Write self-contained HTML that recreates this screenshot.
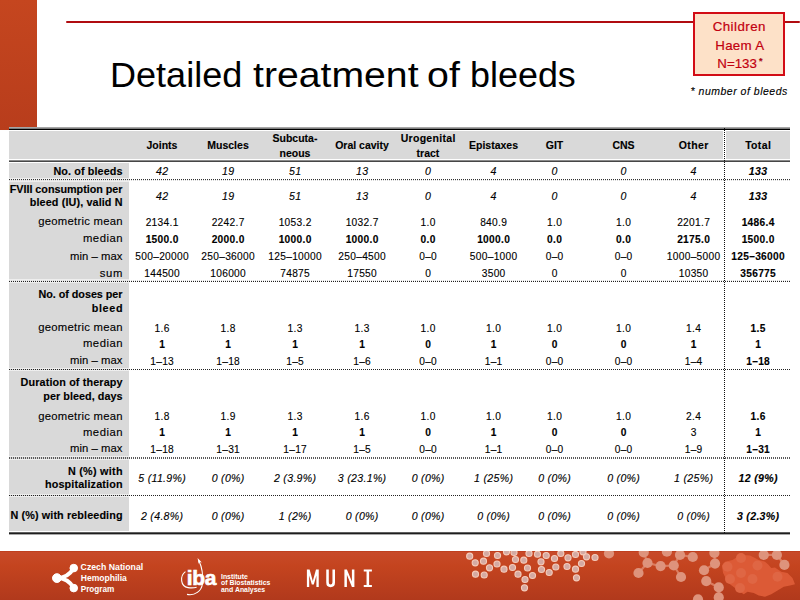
<!DOCTYPE html>
<html><head><meta charset="utf-8">
<style>
*{margin:0;padding:0;box-sizing:border-box}
html,body{width:800px;height:600px;overflow:hidden;background:#fff}
body{position:relative;font-family:"Liberation Sans",sans-serif;color:#000}
.t{position:absolute;white-space:nowrap;-webkit-text-stroke:0.12px #000}
.abs{position:absolute}
.dot{position:absolute;left:9px;width:781px;height:1px;
  background:repeating-linear-gradient(90deg,#222 0 1px,transparent 1px 2px)}
.dot::before,.dot::after{content:"";position:absolute;left:0;right:0;height:1px;background:rgba(255,255,255,.55)}
.dot::before{top:-1px}.dot::after{bottom:-1px}
</style></head><body>
<!-- left accent bar -->
<div class="abs" style="left:0;top:0;width:37px;height:130px;background:linear-gradient(180deg,#c5461f,#b83d1c)"></div>
<!-- red rule -->
<div class="abs" style="left:66px;top:21px;width:734px;height:2px;background:#b00c10;border-radius:1px"></div>
<!-- info box -->
<div class="abs" style="left:693px;top:12px;width:92px;height:64px;border:2px solid #d20c16;background:#fde1c8"></div>
<div class="t" style="top:17.59px;font-size:13.3px;line-height:17px;color:#c2000f;letter-spacing:0.46px;left:639.28px;width:200px;text-align:center;-webkit-text-stroke:0.2px #c2000f;">Children</div><div class="t" style="top:36.54px;font-size:13.3px;line-height:17px;color:#c2000f;letter-spacing:0.3px;left:639.80px;width:200px;text-align:center;-webkit-text-stroke:0.2px #c2000f;">Haem A</div><div class="t" style="top:54.89px;font-size:13.3px;line-height:17px;color:#c2000f;left:637.10px;width:200px;text-align:center;-webkit-text-stroke:0.2px #c2000f;">N=133</div><div class="t" style="top:55.08px;font-size:9px;line-height:12px;font-weight:bold;color:#c2000f;left:759.00px;">*</div><div class="t" style="top:83.66px;font-size:10.5px;line-height:14px;font-style:italic;letter-spacing:0.5px;left:690.60px;">* number of bleeds</div>
<!-- title -->
<div class="t" style="left:110.00px;top:52px;font-size:37.25px;line-height:44px;transform:scale(0.968,0.93);transform-origin:0 35px;-webkit-text-stroke:0">Detailed</div><div class="t" style="left:252.80px;top:52px;font-size:37.25px;line-height:44px;transform:scale(1.052,0.93);transform-origin:0 35px;-webkit-text-stroke:0">treatment</div><div class="t" style="left:426.80px;top:52px;font-size:37.25px;line-height:44px;transform:scale(1.056,0.93);transform-origin:0 35px;-webkit-text-stroke:0">of</div><div class="t" style="left:470.40px;top:52px;font-size:37.25px;line-height:44px;transform:scale(0.964,0.93);transform-origin:0 35px;-webkit-text-stroke:0">bleeds</div>

<!-- table backgrounds -->
<div class="abs" style="left:9px;top:127px;width:781px;height:1px;background:#a6a6a6"></div>
<div class="abs" style="left:9px;top:128px;width:781px;height:1px;background:#7e7e7e"></div>
<div class="abs" style="left:9px;top:129px;width:781px;height:1px;background:#000"></div>
<div class="abs" style="left:9px;top:131px;width:781px;height:28px;background:#d9d9d9"></div>
<div class="abs" style="left:9px;top:160px;width:781px;height:1px;background:#8a8a8a"></div>
<div class="abs" style="left:9px;top:161px;width:781px;height:1px;background:#474747"></div>
<div class="abs" style="left:9px;top:163px;width:120px;height:368px;background:#d9d9d9"></div>
<div class="dot" style="top:180px;height:1px;background:repeating-linear-gradient(90deg,#aaa 0 1px,transparent 1px 2px)"></div><div class="dot" style="top:179px;height:1px;background:repeating-linear-gradient(90deg,#333 0 1px,transparent 1px 2px)"></div><div class="dot" style="top:280px;height:1px;background:repeating-linear-gradient(90deg,#aaa 0 1px,transparent 1px 2px)"></div><div class="dot" style="top:281px;height:1px;background:repeating-linear-gradient(90deg,#222 0 1px,transparent 1px 2px)"></div><div class="dot" style="top:369px;height:1px;background:repeating-linear-gradient(90deg,#222 0 1px,transparent 1px 2px)"></div><div class="dot" style="top:457px;height:2px;background:repeating-linear-gradient(90deg,#5a5a5a 0 1px,transparent 1px 2px)"></div><div class="dot" style="top:495px;height:1px;background:repeating-linear-gradient(90deg,#222 0 1px,transparent 1px 2px)"></div>
<div class="abs" style="left:9px;top:532px;width:781px;height:1px;background:#5e5e5e"></div>
<div class="abs" style="left:9px;top:533px;width:781px;height:1px;background:#1e1e1e"></div>
<div class="abs" style="left:9px;top:534px;width:781px;height:1px;background:#a8a8a8"></div>
<div class="abs" style="left:723px;top:130px;width:3px;height:30px;background:#fff"></div>
<div class="abs" style="left:724px;top:128px;width:1px;height:405px;background:repeating-linear-gradient(180deg,#111 0 1px,transparent 1px 2px)"></div>

<div class="t" style="top:137.96px;font-size:10.5px;line-height:14px;font-weight:bold;left:62.00px;width:200px;text-align:center;">Joints</div><div class="t" style="top:137.96px;font-size:10.5px;line-height:14px;font-weight:bold;left:128.00px;width:200px;text-align:center;">Muscles</div><div class="t" style="top:131.26px;font-size:10.5px;line-height:14px;font-weight:bold;left:195.00px;width:200px;text-align:center;">Subcuta-</div><div class="t" style="top:145.96px;font-size:10.5px;line-height:14px;font-weight:bold;left:195.00px;width:200px;text-align:center;">neous</div><div class="t" style="top:137.96px;font-size:10.5px;line-height:14px;font-weight:bold;left:262.00px;width:200px;text-align:center;">Oral cavity</div><div class="t" style="top:131.26px;font-size:10.5px;line-height:14px;font-weight:bold;letter-spacing:0.3px;left:328.15px;width:200px;text-align:center;">Urogenital</div><div class="t" style="top:145.96px;font-size:10.5px;line-height:14px;font-weight:bold;left:328.00px;width:200px;text-align:center;">tract</div><div class="t" style="top:137.96px;font-size:10.5px;line-height:14px;font-weight:bold;left:393.50px;width:200px;text-align:center;">Epistaxes</div><div class="t" style="top:137.96px;font-size:10.5px;line-height:14px;font-weight:bold;left:454.50px;width:200px;text-align:center;">GIT</div><div class="t" style="top:137.96px;font-size:10.5px;line-height:14px;font-weight:bold;left:523.50px;width:200px;text-align:center;">CNS</div><div class="t" style="top:137.96px;font-size:10.5px;line-height:14px;font-weight:bold;letter-spacing:0.4px;left:593.70px;width:200px;text-align:center;">Other</div><div class="t" style="top:137.96px;font-size:10.5px;line-height:14px;font-weight:bold;letter-spacing:0.35px;left:658.17px;width:200px;text-align:center;">Total</div><div class="t" style="top:163.96px;font-size:10.8px;line-height:14px;font-weight:bold;letter-spacing:0.11px;left:-177.39px;width:300px;text-align:right;">No. of bleeds</div><div class="t" style="top:181.76px;font-size:10.8px;line-height:14px;font-weight:bold;letter-spacing:-0.03px;left:-177.53px;width:300px;text-align:right;">FVIII consumption per</div><div class="t" style="top:195.06px;font-size:10.8px;line-height:14px;font-weight:bold;letter-spacing:0.12px;left:-177.38px;width:300px;text-align:right;">bleed (IU), valid N</div><div class="t" style="top:213.58px;font-size:11.3px;line-height:15px;letter-spacing:0.25px;left:-177.25px;width:300px;text-align:right;">geometric mean</div><div class="t" style="top:230.98px;font-size:11.3px;line-height:15px;letter-spacing:0.5px;left:-177.00px;width:300px;text-align:right;">median</div><div class="t" style="top:248.58px;font-size:11.3px;line-height:15px;letter-spacing:0.06px;left:-177.44px;width:300px;text-align:right;">min – max</div><div class="t" style="top:265.98px;font-size:11.3px;line-height:15px;letter-spacing:0.75px;left:-176.75px;width:300px;text-align:right;">sum</div><div class="t" style="top:286.76px;font-size:10.8px;line-height:14px;font-weight:bold;letter-spacing:-0.04px;left:-177.54px;width:300px;text-align:right;">No. of doses per</div><div class="t" style="top:300.66px;font-size:10.8px;line-height:14px;font-weight:bold;letter-spacing:0.65px;left:-176.85px;width:300px;text-align:right;">bleed</div><div class="t" style="top:319.78px;font-size:11.3px;line-height:15px;letter-spacing:0.25px;left:-177.25px;width:300px;text-align:right;">geometric mean</div><div class="t" style="top:336.08px;font-size:11.3px;line-height:15px;letter-spacing:0.5px;left:-177.00px;width:300px;text-align:right;">median</div><div class="t" style="top:352.78px;font-size:11.3px;line-height:15px;letter-spacing:0.06px;left:-177.44px;width:300px;text-align:right;">min – max</div><div class="t" style="top:375.36px;font-size:10.8px;line-height:14px;font-weight:bold;letter-spacing:0.13px;left:-177.37px;width:300px;text-align:right;">Duration of therapy</div><div class="t" style="top:388.86px;font-size:10.8px;line-height:14px;font-weight:bold;letter-spacing:0.04px;left:-177.46px;width:300px;text-align:right;">per bleed, days</div><div class="t" style="top:408.58px;font-size:11.3px;line-height:15px;letter-spacing:0.25px;left:-177.25px;width:300px;text-align:right;">geometric mean</div><div class="t" style="top:424.58px;font-size:11.3px;line-height:15px;letter-spacing:0.5px;left:-177.00px;width:300px;text-align:right;">median</div><div class="t" style="top:441.48px;font-size:11.3px;line-height:15px;letter-spacing:0.06px;left:-177.44px;width:300px;text-align:right;">min – max</div><div class="t" style="top:463.56px;font-size:10.8px;line-height:14px;font-weight:bold;letter-spacing:0.27px;left:-177.23px;width:300px;text-align:right;">N (%) with</div><div class="t" style="top:477.26px;font-size:10.8px;line-height:14px;font-weight:bold;letter-spacing:0.14px;left:-177.36px;width:300px;text-align:right;">hospitalization</div><div class="t" style="top:508.16px;font-size:10.8px;line-height:14px;font-weight:bold;letter-spacing:0.11px;left:-177.39px;width:300px;text-align:right;">N (%) with rebleeding</div><div class="t" style="top:163.93px;font-size:10.6px;line-height:14px;font-style:italic;letter-spacing:0.3px;left:62.15px;width:200px;text-align:center;">42</div><div class="t" style="top:163.93px;font-size:10.6px;line-height:14px;font-style:italic;letter-spacing:0.3px;left:128.15px;width:200px;text-align:center;">19</div><div class="t" style="top:163.93px;font-size:10.6px;line-height:14px;font-style:italic;letter-spacing:0.3px;left:195.15px;width:200px;text-align:center;">51</div><div class="t" style="top:163.93px;font-size:10.6px;line-height:14px;font-style:italic;letter-spacing:0.3px;left:262.15px;width:200px;text-align:center;">13</div><div class="t" style="top:163.93px;font-size:10.6px;line-height:14px;font-style:italic;letter-spacing:0.3px;left:328.15px;width:200px;text-align:center;">0</div><div class="t" style="top:163.93px;font-size:10.6px;line-height:14px;font-style:italic;letter-spacing:0.3px;left:393.65px;width:200px;text-align:center;">4</div><div class="t" style="top:163.93px;font-size:10.6px;line-height:14px;font-style:italic;letter-spacing:0.3px;left:454.65px;width:200px;text-align:center;">0</div><div class="t" style="top:163.93px;font-size:10.6px;line-height:14px;font-style:italic;letter-spacing:0.3px;left:523.65px;width:200px;text-align:center;">0</div><div class="t" style="top:163.93px;font-size:10.6px;line-height:14px;font-style:italic;letter-spacing:0.3px;left:593.65px;width:200px;text-align:center;">4</div><div class="t" style="top:163.93px;font-size:10.6px;line-height:14px;font-weight:bold;font-style:italic;letter-spacing:0.3px;left:658.15px;width:200px;text-align:center;">133</div><div class="t" style="top:189.03px;font-size:10.6px;line-height:14px;font-style:italic;letter-spacing:0.3px;left:62.15px;width:200px;text-align:center;">42</div><div class="t" style="top:189.03px;font-size:10.6px;line-height:14px;font-style:italic;letter-spacing:0.3px;left:128.15px;width:200px;text-align:center;">19</div><div class="t" style="top:189.03px;font-size:10.6px;line-height:14px;font-style:italic;letter-spacing:0.3px;left:195.15px;width:200px;text-align:center;">51</div><div class="t" style="top:189.03px;font-size:10.6px;line-height:14px;font-style:italic;letter-spacing:0.3px;left:262.15px;width:200px;text-align:center;">13</div><div class="t" style="top:189.03px;font-size:10.6px;line-height:14px;font-style:italic;letter-spacing:0.3px;left:328.15px;width:200px;text-align:center;">0</div><div class="t" style="top:189.03px;font-size:10.6px;line-height:14px;font-style:italic;letter-spacing:0.3px;left:393.65px;width:200px;text-align:center;">4</div><div class="t" style="top:189.03px;font-size:10.6px;line-height:14px;font-style:italic;letter-spacing:0.3px;left:454.65px;width:200px;text-align:center;">0</div><div class="t" style="top:189.03px;font-size:10.6px;line-height:14px;font-style:italic;letter-spacing:0.3px;left:523.65px;width:200px;text-align:center;">0</div><div class="t" style="top:189.03px;font-size:10.6px;line-height:14px;font-style:italic;letter-spacing:0.3px;left:593.65px;width:200px;text-align:center;">4</div><div class="t" style="top:189.03px;font-size:10.6px;line-height:14px;font-weight:bold;font-style:italic;letter-spacing:0.3px;left:658.15px;width:200px;text-align:center;">133</div><div class="t" style="top:215.57px;font-size:10.2px;line-height:13px;letter-spacing:0.3px;left:62.15px;width:200px;text-align:center;">2134.1</div><div class="t" style="top:215.57px;font-size:10.2px;line-height:13px;letter-spacing:0.3px;left:128.15px;width:200px;text-align:center;">2242.7</div><div class="t" style="top:215.57px;font-size:10.2px;line-height:13px;letter-spacing:0.3px;left:195.15px;width:200px;text-align:center;">1053.2</div><div class="t" style="top:215.57px;font-size:10.2px;line-height:13px;letter-spacing:0.3px;left:262.15px;width:200px;text-align:center;">1032.7</div><div class="t" style="top:215.57px;font-size:10.2px;line-height:13px;letter-spacing:0.3px;left:328.15px;width:200px;text-align:center;">1.0</div><div class="t" style="top:215.57px;font-size:10.2px;line-height:13px;letter-spacing:0.3px;left:393.65px;width:200px;text-align:center;">840.9</div><div class="t" style="top:215.57px;font-size:10.2px;line-height:13px;letter-spacing:0.3px;left:454.65px;width:200px;text-align:center;">1.0</div><div class="t" style="top:215.57px;font-size:10.2px;line-height:13px;letter-spacing:0.3px;left:523.65px;width:200px;text-align:center;">1.0</div><div class="t" style="top:215.57px;font-size:10.2px;line-height:13px;letter-spacing:0.3px;left:593.65px;width:200px;text-align:center;">2201.7</div><div class="t" style="top:215.57px;font-size:10.2px;line-height:13px;font-weight:bold;letter-spacing:0.3px;left:658.15px;width:200px;text-align:center;">1486.4</div><div class="t" style="top:233.27px;font-size:10.2px;line-height:13px;font-weight:bold;letter-spacing:0.3px;left:62.15px;width:200px;text-align:center;">1500.0</div><div class="t" style="top:233.27px;font-size:10.2px;line-height:13px;font-weight:bold;letter-spacing:0.3px;left:128.15px;width:200px;text-align:center;">2000.0</div><div class="t" style="top:233.27px;font-size:10.2px;line-height:13px;font-weight:bold;letter-spacing:0.3px;left:195.15px;width:200px;text-align:center;">1000.0</div><div class="t" style="top:233.27px;font-size:10.2px;line-height:13px;font-weight:bold;letter-spacing:0.3px;left:262.15px;width:200px;text-align:center;">1000.0</div><div class="t" style="top:233.27px;font-size:10.2px;line-height:13px;font-weight:bold;letter-spacing:0.3px;left:328.15px;width:200px;text-align:center;">0.0</div><div class="t" style="top:233.27px;font-size:10.2px;line-height:13px;font-weight:bold;letter-spacing:0.3px;left:393.65px;width:200px;text-align:center;">1000.0</div><div class="t" style="top:233.27px;font-size:10.2px;line-height:13px;font-weight:bold;letter-spacing:0.3px;left:454.65px;width:200px;text-align:center;">0.0</div><div class="t" style="top:233.27px;font-size:10.2px;line-height:13px;font-weight:bold;letter-spacing:0.3px;left:523.65px;width:200px;text-align:center;">0.0</div><div class="t" style="top:233.27px;font-size:10.2px;line-height:13px;font-weight:bold;letter-spacing:0.3px;left:593.65px;width:200px;text-align:center;">2175.0</div><div class="t" style="top:233.27px;font-size:10.2px;line-height:13px;font-weight:bold;letter-spacing:0.3px;left:658.15px;width:200px;text-align:center;">1500.0</div><div class="t" style="top:249.77px;font-size:10.2px;line-height:13px;letter-spacing:0.3px;left:62.15px;width:200px;text-align:center;">500–20000</div><div class="t" style="top:249.77px;font-size:10.2px;line-height:13px;letter-spacing:0.3px;left:128.15px;width:200px;text-align:center;">250–36000</div><div class="t" style="top:249.77px;font-size:10.2px;line-height:13px;letter-spacing:0.3px;left:195.15px;width:200px;text-align:center;">125–10000</div><div class="t" style="top:249.77px;font-size:10.2px;line-height:13px;letter-spacing:0.3px;left:262.15px;width:200px;text-align:center;">250–4500</div><div class="t" style="top:249.77px;font-size:10.2px;line-height:13px;letter-spacing:0.3px;left:328.15px;width:200px;text-align:center;">0–0</div><div class="t" style="top:249.77px;font-size:10.2px;line-height:13px;letter-spacing:0.3px;left:393.65px;width:200px;text-align:center;">500–1000</div><div class="t" style="top:249.77px;font-size:10.2px;line-height:13px;letter-spacing:0.3px;left:454.65px;width:200px;text-align:center;">0–0</div><div class="t" style="top:249.77px;font-size:10.2px;line-height:13px;letter-spacing:0.3px;left:523.65px;width:200px;text-align:center;">0–0</div><div class="t" style="top:249.77px;font-size:10.2px;line-height:13px;letter-spacing:0.3px;left:593.65px;width:200px;text-align:center;">1000–5000</div><div class="t" style="top:249.77px;font-size:10.2px;line-height:13px;font-weight:bold;letter-spacing:0.3px;left:658.15px;width:200px;text-align:center;">125–36000</div><div class="t" style="top:267.47px;font-size:10.2px;line-height:13px;letter-spacing:0.3px;left:62.15px;width:200px;text-align:center;">144500</div><div class="t" style="top:267.47px;font-size:10.2px;line-height:13px;letter-spacing:0.3px;left:128.15px;width:200px;text-align:center;">106000</div><div class="t" style="top:267.47px;font-size:10.2px;line-height:13px;letter-spacing:0.3px;left:195.15px;width:200px;text-align:center;">74875</div><div class="t" style="top:267.47px;font-size:10.2px;line-height:13px;letter-spacing:0.3px;left:262.15px;width:200px;text-align:center;">17550</div><div class="t" style="top:267.47px;font-size:10.2px;line-height:13px;letter-spacing:0.3px;left:328.15px;width:200px;text-align:center;">0</div><div class="t" style="top:267.47px;font-size:10.2px;line-height:13px;letter-spacing:0.3px;left:393.65px;width:200px;text-align:center;">3500</div><div class="t" style="top:267.47px;font-size:10.2px;line-height:13px;letter-spacing:0.3px;left:454.65px;width:200px;text-align:center;">0</div><div class="t" style="top:267.47px;font-size:10.2px;line-height:13px;letter-spacing:0.3px;left:523.65px;width:200px;text-align:center;">0</div><div class="t" style="top:267.47px;font-size:10.2px;line-height:13px;letter-spacing:0.3px;left:593.65px;width:200px;text-align:center;">10350</div><div class="t" style="top:267.47px;font-size:10.2px;line-height:13px;font-weight:bold;letter-spacing:0.3px;left:658.15px;width:200px;text-align:center;">356775</div><div class="t" style="top:321.97px;font-size:10.2px;line-height:13px;letter-spacing:0.3px;left:62.15px;width:200px;text-align:center;">1.6</div><div class="t" style="top:321.97px;font-size:10.2px;line-height:13px;letter-spacing:0.3px;left:128.15px;width:200px;text-align:center;">1.8</div><div class="t" style="top:321.97px;font-size:10.2px;line-height:13px;letter-spacing:0.3px;left:195.15px;width:200px;text-align:center;">1.3</div><div class="t" style="top:321.97px;font-size:10.2px;line-height:13px;letter-spacing:0.3px;left:262.15px;width:200px;text-align:center;">1.3</div><div class="t" style="top:321.97px;font-size:10.2px;line-height:13px;letter-spacing:0.3px;left:328.15px;width:200px;text-align:center;">1.0</div><div class="t" style="top:321.97px;font-size:10.2px;line-height:13px;letter-spacing:0.3px;left:393.65px;width:200px;text-align:center;">1.0</div><div class="t" style="top:321.97px;font-size:10.2px;line-height:13px;letter-spacing:0.3px;left:454.65px;width:200px;text-align:center;">1.0</div><div class="t" style="top:321.97px;font-size:10.2px;line-height:13px;letter-spacing:0.3px;left:523.65px;width:200px;text-align:center;">1.0</div><div class="t" style="top:321.97px;font-size:10.2px;line-height:13px;letter-spacing:0.3px;left:593.65px;width:200px;text-align:center;">1.4</div><div class="t" style="top:321.97px;font-size:10.2px;line-height:13px;font-weight:bold;letter-spacing:0.3px;left:658.15px;width:200px;text-align:center;">1.5</div><div class="t" style="top:337.67px;font-size:10.2px;line-height:13px;font-weight:bold;letter-spacing:0.3px;left:62.15px;width:200px;text-align:center;">1</div><div class="t" style="top:337.67px;font-size:10.2px;line-height:13px;font-weight:bold;letter-spacing:0.3px;left:128.15px;width:200px;text-align:center;">1</div><div class="t" style="top:337.67px;font-size:10.2px;line-height:13px;font-weight:bold;letter-spacing:0.3px;left:195.15px;width:200px;text-align:center;">1</div><div class="t" style="top:337.67px;font-size:10.2px;line-height:13px;font-weight:bold;letter-spacing:0.3px;left:262.15px;width:200px;text-align:center;">1</div><div class="t" style="top:337.67px;font-size:10.2px;line-height:13px;font-weight:bold;letter-spacing:0.3px;left:328.15px;width:200px;text-align:center;">0</div><div class="t" style="top:337.67px;font-size:10.2px;line-height:13px;font-weight:bold;letter-spacing:0.3px;left:393.65px;width:200px;text-align:center;">1</div><div class="t" style="top:337.67px;font-size:10.2px;line-height:13px;font-weight:bold;letter-spacing:0.3px;left:454.65px;width:200px;text-align:center;">0</div><div class="t" style="top:337.67px;font-size:10.2px;line-height:13px;font-weight:bold;letter-spacing:0.3px;left:523.65px;width:200px;text-align:center;">0</div><div class="t" style="top:337.67px;font-size:10.2px;line-height:13px;font-weight:bold;letter-spacing:0.3px;left:593.65px;width:200px;text-align:center;">1</div><div class="t" style="top:337.67px;font-size:10.2px;line-height:13px;font-weight:bold;letter-spacing:0.3px;left:658.15px;width:200px;text-align:center;">1</div><div class="t" style="top:354.77px;font-size:10.2px;line-height:13px;letter-spacing:0.3px;left:62.15px;width:200px;text-align:center;">1–13</div><div class="t" style="top:354.77px;font-size:10.2px;line-height:13px;letter-spacing:0.3px;left:128.15px;width:200px;text-align:center;">1–18</div><div class="t" style="top:354.77px;font-size:10.2px;line-height:13px;letter-spacing:0.3px;left:195.15px;width:200px;text-align:center;">1–5</div><div class="t" style="top:354.77px;font-size:10.2px;line-height:13px;letter-spacing:0.3px;left:262.15px;width:200px;text-align:center;">1–6</div><div class="t" style="top:354.77px;font-size:10.2px;line-height:13px;letter-spacing:0.3px;left:328.15px;width:200px;text-align:center;">0–0</div><div class="t" style="top:354.77px;font-size:10.2px;line-height:13px;letter-spacing:0.3px;left:393.65px;width:200px;text-align:center;">1–1</div><div class="t" style="top:354.77px;font-size:10.2px;line-height:13px;letter-spacing:0.3px;left:454.65px;width:200px;text-align:center;">0–0</div><div class="t" style="top:354.77px;font-size:10.2px;line-height:13px;letter-spacing:0.3px;left:523.65px;width:200px;text-align:center;">0–0</div><div class="t" style="top:354.77px;font-size:10.2px;line-height:13px;letter-spacing:0.3px;left:593.65px;width:200px;text-align:center;">1–4</div><div class="t" style="top:354.77px;font-size:10.2px;line-height:13px;font-weight:bold;letter-spacing:0.3px;left:658.15px;width:200px;text-align:center;">1–18</div><div class="t" style="top:409.67px;font-size:10.2px;line-height:13px;letter-spacing:0.3px;left:62.15px;width:200px;text-align:center;">1.8</div><div class="t" style="top:409.67px;font-size:10.2px;line-height:13px;letter-spacing:0.3px;left:128.15px;width:200px;text-align:center;">1.9</div><div class="t" style="top:409.67px;font-size:10.2px;line-height:13px;letter-spacing:0.3px;left:195.15px;width:200px;text-align:center;">1.3</div><div class="t" style="top:409.67px;font-size:10.2px;line-height:13px;letter-spacing:0.3px;left:262.15px;width:200px;text-align:center;">1.6</div><div class="t" style="top:409.67px;font-size:10.2px;line-height:13px;letter-spacing:0.3px;left:328.15px;width:200px;text-align:center;">1.0</div><div class="t" style="top:409.67px;font-size:10.2px;line-height:13px;letter-spacing:0.3px;left:393.65px;width:200px;text-align:center;">1.0</div><div class="t" style="top:409.67px;font-size:10.2px;line-height:13px;letter-spacing:0.3px;left:454.65px;width:200px;text-align:center;">1.0</div><div class="t" style="top:409.67px;font-size:10.2px;line-height:13px;letter-spacing:0.3px;left:523.65px;width:200px;text-align:center;">1.0</div><div class="t" style="top:409.67px;font-size:10.2px;line-height:13px;letter-spacing:0.3px;left:593.65px;width:200px;text-align:center;">2.4</div><div class="t" style="top:409.67px;font-size:10.2px;line-height:13px;font-weight:bold;letter-spacing:0.3px;left:658.15px;width:200px;text-align:center;">1.6</div><div class="t" style="top:425.67px;font-size:10.2px;line-height:13px;font-weight:bold;letter-spacing:0.3px;left:62.15px;width:200px;text-align:center;">1</div><div class="t" style="top:425.67px;font-size:10.2px;line-height:13px;font-weight:bold;letter-spacing:0.3px;left:128.15px;width:200px;text-align:center;">1</div><div class="t" style="top:425.67px;font-size:10.2px;line-height:13px;font-weight:bold;letter-spacing:0.3px;left:195.15px;width:200px;text-align:center;">1</div><div class="t" style="top:425.67px;font-size:10.2px;line-height:13px;font-weight:bold;letter-spacing:0.3px;left:262.15px;width:200px;text-align:center;">1</div><div class="t" style="top:425.67px;font-size:10.2px;line-height:13px;font-weight:bold;letter-spacing:0.3px;left:328.15px;width:200px;text-align:center;">0</div><div class="t" style="top:425.67px;font-size:10.2px;line-height:13px;font-weight:bold;letter-spacing:0.3px;left:393.65px;width:200px;text-align:center;">1</div><div class="t" style="top:425.67px;font-size:10.2px;line-height:13px;font-weight:bold;letter-spacing:0.3px;left:454.65px;width:200px;text-align:center;">0</div><div class="t" style="top:425.67px;font-size:10.2px;line-height:13px;font-weight:bold;letter-spacing:0.3px;left:523.65px;width:200px;text-align:center;">0</div><div class="t" style="top:425.67px;font-size:10.2px;line-height:13px;letter-spacing:0.3px;left:593.65px;width:200px;text-align:center;">3</div><div class="t" style="top:425.67px;font-size:10.2px;line-height:13px;font-weight:bold;letter-spacing:0.3px;left:658.15px;width:200px;text-align:center;">1</div><div class="t" style="top:443.17px;font-size:10.2px;line-height:13px;letter-spacing:0.3px;left:62.15px;width:200px;text-align:center;">1–18</div><div class="t" style="top:443.17px;font-size:10.2px;line-height:13px;letter-spacing:0.3px;left:128.15px;width:200px;text-align:center;">1–31</div><div class="t" style="top:443.17px;font-size:10.2px;line-height:13px;letter-spacing:0.3px;left:195.15px;width:200px;text-align:center;">1–17</div><div class="t" style="top:443.17px;font-size:10.2px;line-height:13px;letter-spacing:0.3px;left:262.15px;width:200px;text-align:center;">1–5</div><div class="t" style="top:443.17px;font-size:10.2px;line-height:13px;letter-spacing:0.3px;left:328.15px;width:200px;text-align:center;">0–0</div><div class="t" style="top:443.17px;font-size:10.2px;line-height:13px;letter-spacing:0.3px;left:393.65px;width:200px;text-align:center;">1–1</div><div class="t" style="top:443.17px;font-size:10.2px;line-height:13px;letter-spacing:0.3px;left:454.65px;width:200px;text-align:center;">0–0</div><div class="t" style="top:443.17px;font-size:10.2px;line-height:13px;letter-spacing:0.3px;left:523.65px;width:200px;text-align:center;">0–0</div><div class="t" style="top:443.17px;font-size:10.2px;line-height:13px;letter-spacing:0.3px;left:593.65px;width:200px;text-align:center;">1–9</div><div class="t" style="top:443.17px;font-size:10.2px;line-height:13px;font-weight:bold;letter-spacing:0.3px;left:658.15px;width:200px;text-align:center;">1–31</div><div class="t" style="top:471.33px;font-size:10.6px;line-height:14px;font-style:italic;letter-spacing:0.3px;left:62.15px;width:200px;text-align:center;">5 (11.9%)</div><div class="t" style="top:471.33px;font-size:10.6px;line-height:14px;font-style:italic;letter-spacing:0.3px;left:128.15px;width:200px;text-align:center;">0 (0%)</div><div class="t" style="top:471.33px;font-size:10.6px;line-height:14px;font-style:italic;letter-spacing:0.3px;left:195.15px;width:200px;text-align:center;">2 (3.9%)</div><div class="t" style="top:471.33px;font-size:10.6px;line-height:14px;font-style:italic;letter-spacing:0.3px;left:262.15px;width:200px;text-align:center;">3 (23.1%)</div><div class="t" style="top:471.33px;font-size:10.6px;line-height:14px;font-style:italic;letter-spacing:0.3px;left:328.15px;width:200px;text-align:center;">0 (0%)</div><div class="t" style="top:471.33px;font-size:10.6px;line-height:14px;font-style:italic;letter-spacing:0.3px;left:393.65px;width:200px;text-align:center;">1 (25%)</div><div class="t" style="top:471.33px;font-size:10.6px;line-height:14px;font-style:italic;letter-spacing:0.3px;left:454.65px;width:200px;text-align:center;">0 (0%)</div><div class="t" style="top:471.33px;font-size:10.6px;line-height:14px;font-style:italic;letter-spacing:0.3px;left:523.65px;width:200px;text-align:center;">0 (0%)</div><div class="t" style="top:471.33px;font-size:10.6px;line-height:14px;font-style:italic;letter-spacing:0.3px;left:593.65px;width:200px;text-align:center;">1 (25%)</div><div class="t" style="top:471.33px;font-size:10.6px;line-height:14px;font-weight:bold;font-style:italic;letter-spacing:0.3px;left:658.15px;width:200px;text-align:center;">12 (9%)</div><div class="t" style="top:508.63px;font-size:10.6px;line-height:14px;font-style:italic;letter-spacing:0.3px;left:62.15px;width:200px;text-align:center;">2 (4.8%)</div><div class="t" style="top:508.63px;font-size:10.6px;line-height:14px;font-style:italic;letter-spacing:0.3px;left:128.15px;width:200px;text-align:center;">0 (0%)</div><div class="t" style="top:508.63px;font-size:10.6px;line-height:14px;font-style:italic;letter-spacing:0.3px;left:195.15px;width:200px;text-align:center;">1 (2%)</div><div class="t" style="top:508.63px;font-size:10.6px;line-height:14px;font-style:italic;letter-spacing:0.3px;left:262.15px;width:200px;text-align:center;">0 (0%)</div><div class="t" style="top:508.63px;font-size:10.6px;line-height:14px;font-style:italic;letter-spacing:0.3px;left:328.15px;width:200px;text-align:center;">0 (0%)</div><div class="t" style="top:508.63px;font-size:10.6px;line-height:14px;font-style:italic;letter-spacing:0.3px;left:393.65px;width:200px;text-align:center;">0 (0%)</div><div class="t" style="top:508.63px;font-size:10.6px;line-height:14px;font-style:italic;letter-spacing:0.3px;left:454.65px;width:200px;text-align:center;">0 (0%)</div><div class="t" style="top:508.63px;font-size:10.6px;line-height:14px;font-style:italic;letter-spacing:0.3px;left:523.65px;width:200px;text-align:center;">0 (0%)</div><div class="t" style="top:508.63px;font-size:10.6px;line-height:14px;font-style:italic;letter-spacing:0.3px;left:593.65px;width:200px;text-align:center;">0 (0%)</div><div class="t" style="top:508.63px;font-size:10.6px;line-height:14px;font-weight:bold;font-style:italic;letter-spacing:0.3px;left:658.15px;width:200px;text-align:center;">3 (2.3%)</div>

<!-- footer -->
<svg class="abs" style="left:0;top:551px" width="800" height="49" viewBox="0 551 800 49" ><defs><linearGradient id="fg" x1="0" y1="0" x2="0" y2="1"><stop offset="0" stop-color="#c84a2a"/><stop offset="0.3" stop-color="#c4441f"/><stop offset="1" stop-color="#b1391c"/></linearGradient><clipPath id="fc"><rect x="0" y="551" width="800" height="49"/></clipPath></defs><rect x="0" y="551" width="800" height="49" fill="url(#fg)"/><rect x="0" y="551" width="800" height="1" fill="#bf3f1f"/><g clip-path="url(#fc)"><g stroke="#e0876b" stroke-width="2.2" opacity="0.85"><line x1="643.75" y1="552.4" x2="647.5" y2="563"/><line x1="647.5" y1="563" x2="638.5" y2="573"/><line x1="660.6" y1="566.1" x2="673.75" y2="565.5"/><line x1="673.75" y1="565.5" x2="680" y2="554.9"/><line x1="673.75" y1="565.5" x2="681" y2="577"/><line x1="680" y1="554.9" x2="692.75" y2="557"/><line x1="714.4" y1="553" x2="715" y2="563.6"/><line x1="715" y1="563.6" x2="704" y2="570.25"/><line x1="706.25" y1="581.1" x2="718.75" y2="587.4"/><line x1="718.75" y1="587.4" x2="718.75" y2="597.4"/><line x1="763.75" y1="554.9" x2="776.9" y2="554.9"/><line x1="776.9" y1="554.9" x2="784.4" y2="564.9"/><line x1="647.5" y1="563" x2="660.6" y2="566.1"/></g><polygon fill="#dc5a36" points="721.9,565.5 725,561.75 732.5,559.9 737.5,556.75 743.75,554.9 750,555.5 755,558 758.75,559.9 765,561.75 768,564.25 771.25,568 775,567.4 777.5,569.25 781.25,571.75 787.5,573 792.5,578 795,584.25 790,585.5 783.75,586.75 777.5,590.5 771.25,594.25 765,596.75 758.75,595.5 753.75,593 747.5,591.75 743.75,594.25 740,591.75 735,588 730,584.25 726.25,579.25 723.1,573"/><g fill="#df6644"><circle cx="741" cy="558" r="5"/><circle cx="757.5" cy="565.5" r="5"/><circle cx="741" cy="573" r="5"/><circle cx="752.5" cy="579" r="5"/><circle cx="730" cy="579" r="5"/><circle cx="740" cy="588" r="5"/><circle cx="777.5" cy="576.75" r="5"/><circle cx="727.5" cy="566.75" r="5"/></g><g fill="#de937c"><circle cx="609" cy="553.5" r="5.1"/><circle cx="643.75" cy="552.4" r="5.1"/><circle cx="647.5" cy="563" r="5.1"/><circle cx="638.5" cy="573" r="5.1"/><circle cx="660.6" cy="566.1" r="5.1"/><circle cx="666.9" cy="551.75" r="5.1"/><circle cx="673.75" cy="565.5" r="5.1"/><circle cx="680" cy="554.9" r="5.1"/><circle cx="681" cy="577" r="5.1"/><circle cx="692.75" cy="557" r="5.1"/><circle cx="704" cy="570.25" r="5.1"/><circle cx="706.25" cy="581.1" r="5.1"/><circle cx="698" cy="599.25" r="5.1"/><circle cx="714.4" cy="553" r="5.1"/><circle cx="715" cy="563.6" r="5.1"/><circle cx="718.75" cy="587.4" r="5.1"/><circle cx="718.75" cy="597.4" r="5.1"/><circle cx="763.75" cy="554.9" r="5.1"/><circle cx="776.9" cy="554.9" r="5.1"/><circle cx="784.4" cy="564.9" r="5.1"/></g><g fill="#d4aaa3" stroke="#f5cbba" stroke-width="1.1"><circle cx="469.7" cy="556.2" r="3.05"/><circle cx="475.2" cy="562.8" r="3.05"/><circle cx="483.5" cy="561.2" r="3.05"/><circle cx="486.5" cy="553.5" r="3.05"/><circle cx="489.5" cy="567.8" r="3.05"/><circle cx="475.5" cy="574.2" r="3.05"/><circle cx="484.2" cy="575" r="3.05"/><circle cx="497.5" cy="555.5" r="3.05"/><circle cx="497" cy="564" r="3.05"/><circle cx="504" cy="569.2" r="3.05"/><circle cx="506.5" cy="551.8" r="3.05"/><circle cx="512.5" cy="567.5" r="3.05"/><circle cx="514" cy="552.5" r="3.05"/><circle cx="515.5" cy="559.5" r="3.05"/><circle cx="518" cy="574.2" r="3.05"/><circle cx="523.8" cy="560.2" r="3.05"/><circle cx="527.5" cy="568" r="3.05"/><circle cx="525" cy="579.5" r="3.05"/><circle cx="532.5" cy="575.5" r="3.05"/><circle cx="524.5" cy="587.8" r="3.05"/><circle cx="529" cy="553.5" r="3.05"/><circle cx="537.5" cy="554.2" r="3.05"/><circle cx="546.2" cy="555.5" r="3.05"/><circle cx="541" cy="561.8" r="3.05"/><circle cx="554.5" cy="558.5" r="3.05"/><circle cx="560.8" cy="553.5" r="3.05"/><circle cx="568" cy="557.8" r="3.05"/><circle cx="575.5" cy="554.5" r="3.05"/><circle cx="583" cy="551.8" r="3.05"/><circle cx="586.5" cy="556.8" r="3.05"/><circle cx="595" cy="557.5" r="3.05"/><circle cx="541.5" cy="569.5" r="3.05"/><circle cx="549.2" cy="572.5" r="3.05"/><circle cx="555.8" cy="567" r="3.05"/><circle cx="567" cy="566.5" r="3.05"/><circle cx="575.5" cy="569.2" r="3.05"/><circle cx="581.5" cy="563.5" r="3.05"/><circle cx="576.5" cy="577.8" r="3.05"/></g></g><g fill="#fff" stroke="#fff"><circle cx="56.9" cy="578.1" r="4.4"/><circle cx="73.75" cy="568.1" r="3.8"/><circle cx="73.75" cy="588.1" r="3.8"/><path d="M57 578.1 Q68 578.1 73.75 568.1 M57 578.1 Q68 578.1 73.75 588.1" fill="none" stroke-width="4" stroke-linecap="round"/></g><g fill="#fff" font-family="Liberation Sans" font-weight="bold" font-size="9.1" lengthAdjust="spacingAndGlyphs"><text x="80.6" y="569.8" textLength="62.6" lengthAdjust="spacingAndGlyphs">Czech National</text><text x="80.7" y="580.6" textLength="46.2" lengthAdjust="spacingAndGlyphs">Hemophilia</text><text x="80.7" y="591.7" textLength="33.6" lengthAdjust="spacingAndGlyphs">Program</text></g><text x="186.8" y="584.8" fill="#fff" font-family="Liberation Sans" font-weight="bold" font-size="21" letter-spacing="-0.3" stroke="#fff" stroke-width="0.6">iba</text><g fill="none" stroke="#fff" stroke-width="1.1"><path d="M185.4 571.6 C179.5 576 180.5 586.5 188 587.6 C191.5 588.1 194.5 587.8 196.6 587.2"/><path d="M187 594.4 C195 596 201.5 591 202.4 584 C203.2 576 201.5 566 198.8 560.5"/></g><path d="M197.6 558 L201.8 562.6 L199.6 562 L198.6 563.8 Z" fill="#fff"/><g fill="#fff" font-family="Liberation Sans" font-weight="bold" font-size="6.9"><text x="221" y="578.5">Institute</text><text x="221" y="585">of Biostatistics</text><text x="221" y="591.7">and Analyses</text></g><g fill="#fff"><path d="M306.9 586.9 V569.4 H309.6 L312.8 581 L316 569.4 H318.75 V586.9 H316.4 V575.5 L313.8 584.5 H311.8 L309.2 575.5 V586.9 Z"/><path d="M326.25 569.4 H328.8 V582.3 Q328.8 584.6 330.6 584.6 Q332.45 584.6 332.45 582.3 V569.4 H335 V582.6 Q335 587.2 330.6 587.2 Q326.25 587.2 326.25 582.6 Z"/><path d="M344.4 586.9 V569.4 H346.9 L351.9 581.5 V569.4 H354.4 V586.9 H351.9 L346.9 574.8 V586.9 Z"/><path d="M363.75 569.4 H371.9 V571.4 H369.1 V584.9 H371.9 V586.9 H363.75 V584.9 H366.55 V571.4 H363.75 Z"/></g></svg>
</body></html>
